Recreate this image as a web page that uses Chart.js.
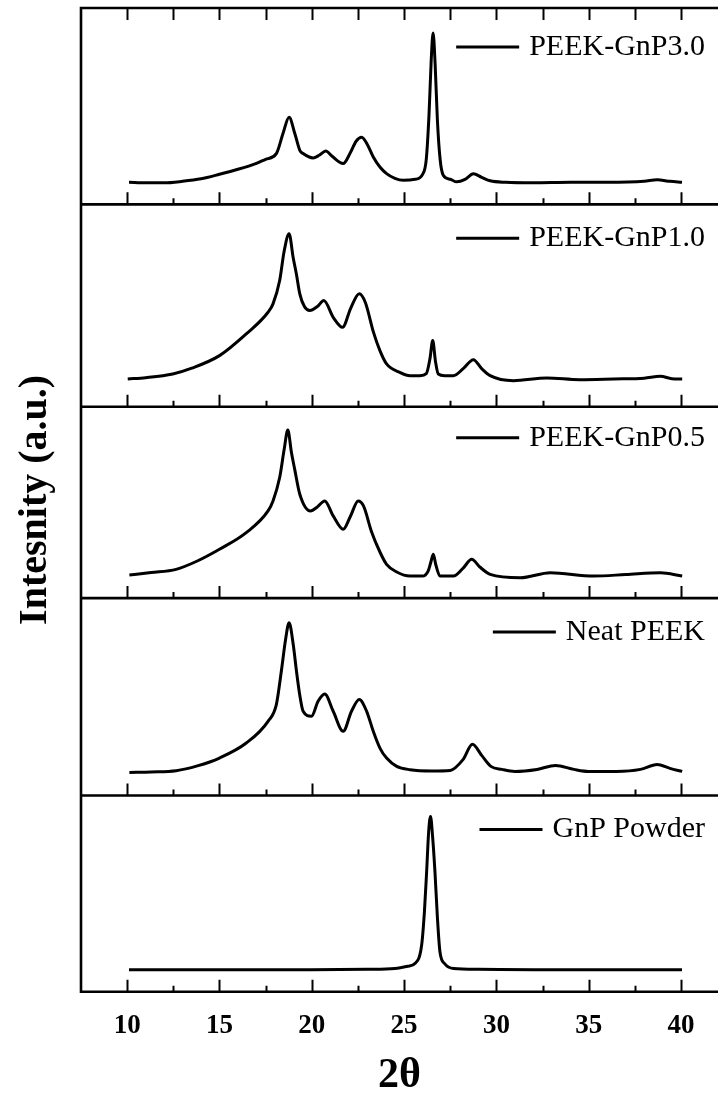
<!DOCTYPE html>
<html>
<head>
<meta charset="utf-8">
<script src="https://cdn.jsdelivr.net/npm/chart.js@4.4.1/dist/chart.umd.min.js"></script>
<style>
  html, body { margin: 0; padding: 0; background: #fff; }
  #wrap { width: 718px; height: 1095px; }
</style>
</head>
<body>
<div id="wrap"><canvas id="xrd" width="718" height="1095"></canvas></div>
<script>
// XRD patterns, one panel per sample (top to bottom)
const sampleNames = ['PEEK-GnP3.0', 'PEEK-GnP1.0', 'PEEK-GnP0.5', 'Neat PEEK', 'GnP Powder'];
const xTicks = [10, 15, 20, 25, 30, 35, 40];
const panelSpan = [196, 202, 191, 197, 196]; // intensity range of each panel (a.u.)

const theta_gnp30 = [10.1, 11, 12, 13, 14, 15, 16, 17, 17.5, 18.08, 18.44, 18.77, 19.08, 19.35, 19.53, 20.07, 20.4, 20.76, 21.1, 21.7, 22.1, 22.4, 22.7, 23.0, 23.33, 23.7, 24.05, 24.5, 24.95, 25.6, 26.0, 26.2, 26.35, 26.47, 26.57, 26.68, 26.8, 26.95, 27.12, 27.5, 27.85, 28.3, 28.75, 29.2, 29.66, 30.5, 32, 34, 36, 38, 38.7, 39.4, 40.05];
const int_gnp30 = [22, 21.5, 21.5, 23, 25.5, 30, 35, 41, 45, 50.7, 70.7, 87, 70.7, 54, 50.7, 46.3, 49, 53.3, 48, 40.7, 52, 63, 67, 60, 47.3, 37, 30.7, 26, 24, 25, 30, 45, 90, 145, 171, 140, 85, 45, 29, 25, 22.5, 25, 30.5, 27, 23.5, 22, 21.5, 22, 22, 23, 24.5, 23, 22];

const theta_gnp10 = [10.03, 11, 12.47, 13.5, 15.0, 16.45, 17.63, 17.9, 18.26, 18.5, 18.77, 18.99, 19.17, 19.35, 19.6, 19.89, 20.3, 20.65, 21.16, 21.67, 22.1, 22.57, 22.9, 23.33, 23.69, 24.05, 24.77, 25.32, 25.86, 26.2, 26.4, 26.55, 26.7, 26.85, 27.2, 27.67, 28.2, 28.75, 29.2, 29.66, 30.92, 32.73, 34.5, 36.35, 38, 38.88, 39.5, 40.06];
const int_gnp10 = [27.7, 29, 32.7, 38.5, 51, 72.7, 94.3, 102.7, 126, 155, 172.7, 149, 132, 112.7, 100, 96, 100, 106, 89.3, 79.3, 98, 112.7, 104, 75, 56, 42.7, 34.3, 31, 31, 33, 48, 66, 45, 32.7, 31, 31, 38, 47, 38, 31, 26, 28.7, 27, 27.7, 28.5, 30.3, 28, 27.7];

const theta_gnp05 = [10.12, 11.3, 12.65, 13.8, 15.0, 16.45, 17.63, 17.9, 18.26, 18.5, 18.7, 18.9, 19.08, 19.35, 19.93, 20.3, 20.7, 21.16, 21.7, 22.1, 22.51, 22.8, 23.24, 23.69, 24.05, 24.6, 25.32, 26.0, 26.3, 26.45, 26.58, 26.72, 26.94, 27.67, 28.2, 28.66, 29.1, 29.66, 31.29, 32.92, 35.27, 37, 38.88, 40.06];
const int_gnp05 = [23, 25.5, 28.7, 37, 48.7, 65.3, 87, 97, 120.3, 148, 167.7, 145, 128, 103.7, 87, 91, 97, 82, 68.7, 82, 97, 92, 66, 46, 33.7, 26, 22, 22, 27, 36, 43.7, 33, 22, 22, 30, 38.7, 31, 23.7, 20.3, 25.3, 22, 23.5, 25.3, 22];

const theta_peek = [10.12, 11.3, 12.65, 13.8, 15.0, 16.45, 17.63, 18.08, 18.35, 18.59, 18.77, 19.0, 19.17, 19.35, 19.53, 19.98, 20.34, 20.7, 21.16, 21.7, 22.15, 22.57, 22.97, 23.33, 23.69, 24.05, 24.6, 25.32, 26.5, 27.5, 28.2, 28.7, 29.2, 29.7, 30.3, 31.0, 32.2, 33.2, 34.2, 35, 36.5, 37.8, 38.7, 39.4, 40.06];
const int_peek = [23, 23.5, 24.7, 29.5, 37.3, 52.3, 74, 90.7, 124, 157, 172.3, 150, 124, 100, 84, 79, 94, 101.3, 84, 64, 84, 95.7, 84, 64, 47.3, 37.3, 29, 25.7, 24.5, 25, 36, 51, 40, 29, 26, 24, 26, 30, 26, 24, 24, 26, 31, 27, 24];

const theta_powder = [10.1, 15, 20, 23, 24.5, 25.2, 25.6, 25.95, 26.1, 26.22, 26.33, 26.43, 26.53, 26.67, 26.8, 26.94, 27.2, 27.67, 29, 32, 36, 40.05];
const int_powder = [22, 22, 22, 22.5, 23.3, 25.5, 28.5, 46.7, 80, 120, 160, 175, 158, 120, 75, 40, 28, 23.3, 22.5, 22, 22, 22];

const thetaSets = [theta_gnp30, theta_gnp10, theta_gnp05, theta_peek, theta_powder];
const intSets = [int_gnp30, int_gnp10, int_gnp05, int_peek, int_powder];

const serif = '"Liberation Serif", "Times New Roman", serif';

// one y axis per panel, stacked on the left
const scales = {
  x: {
    type: 'linear',
    position: 'bottom',
    min: 7.5,
    max: 42,
    afterBuildTicks: s => { s.ticks = xTicks.map(v => ({value: v})); },
    grid: {display: false, drawTicks: false},
    border: {display: false},
    ticks: {color: '#000', font: {size: 27, weight: 'bold'}, padding: 18, maxRotation: 0, autoSkip: false},
    title: {
      display: true, text: '2θ', color: '#000',
      font: {size: 42, weight: 'bold', lineHeight: 0.9},
      padding: {top: -3, bottom: 0}
    }
  }
};
sampleNames.forEach((name, i) => {
  scales['y' + i] = {
    type: 'linear',
    position: 'left',
    stack: 'panels',
    stackWeight: panelSpan[i],
    weight: sampleNames.length - i, // higher weight is placed on top
    min: 0,
    max: panelSpan[i],
    grid: {display: false, drawTicks: false},
    border: {display: false},
    ticks: {display: false}
  };
});

const datasets = sampleNames.map((name, i) => ({
  label: name,
  yAxisID: 'y' + i,
  data: thetaSets[i].map((t, k) => ({x: t, y: intSets[i][k]})),
  borderColor: '#000',
  borderWidth: 3,
  pointRadius: 0,
  cubicInterpolationMode: 'monotone',
  fill: false
}));

// frame, inward ticks and panel separators
const framePlugin = {
  id: 'frame',
  afterDraw(chart) {
    const {ctx, chartArea, scales} = chart;
    const xs = scales.x;
    const minor = xTicks.slice(1).map((v, k) => (v + xTicks[k]) / 2);
    ctx.save();
    ctx.strokeStyle = '#000';
    ctx.lineCap = 'butt';
    ctx.lineWidth = 2;
    sampleNames.forEach((name, i) => {
      const ys = scales['y' + i];
      ctx.beginPath();
      xTicks.forEach(v => {
        const px = Math.round(xs.getPixelForValue(v)) + 0.5;
        ctx.moveTo(px, ys.bottom);
        ctx.lineTo(px, ys.bottom - 12);
      });
      minor.forEach(v => {
        const px = Math.round(xs.getPixelForValue(v)) + 0.5;
        ctx.moveTo(px, ys.bottom);
        ctx.lineTo(px, ys.bottom - 6);
      });
      if (i === 0) {
        xTicks.concat(minor).forEach(v => {
          const px = Math.round(xs.getPixelForValue(v)) + 0.5;
          ctx.moveTo(px, ys.top);
          ctx.lineTo(px, ys.top + 12);
        });
      }
      ctx.stroke();
    });
    ctx.lineWidth = 2.6;
    ctx.beginPath();
    sampleNames.forEach((name, i) => {
      const ys = scales['y' + i];
      ctx.moveTo(chartArea.left, ys.top);
      ctx.lineTo(chartArea.right, ys.top);
      if (i === sampleNames.length - 1) {
        ctx.moveTo(chartArea.left, ys.bottom);
        ctx.lineTo(chartArea.right, ys.bottom);
      }
    });
    ctx.moveTo(chartArea.left, chartArea.top - 1.3);
    ctx.lineTo(chartArea.left, chartArea.bottom + 1.3);
    ctx.stroke();
    ctx.restore();
  }
};

// legend entry inside each panel
const panelLegend = {
  id: 'panelLegend',
  afterDatasetsDraw(chart, args, opts) {
    const {ctx, scales} = chart;
    ctx.save();
    ctx.font = opts.size + 'px ' + serif;
    ctx.fillStyle = '#000';
    ctx.strokeStyle = '#000';
    ctx.lineWidth = 3;
    ctx.textBaseline = 'middle';
    ctx.textAlign = 'left';
    chart.data.datasets.forEach((ds, i) => {
      const ys = scales[ds.yAxisID];
      const y = ys.top + opts.offsets[i];
      const w = ctx.measureText(ds.label).width;
      const tx = opts.right - w;
      ctx.beginPath();
      ctx.moveTo(tx - opts.gap - opts.lineLen, y);
      ctx.lineTo(tx - opts.gap, y);
      ctx.stroke();
      ctx.fillText(ds.label, tx, y);
    });
    ctx.restore();
  }
};

// rotated y title
const yTitle = {
  id: 'yTitle',
  afterDraw(chart, args, opts) {
    const {ctx, chartArea} = chart;
    ctx.save();
    ctx.translate(opts.x, (chartArea.top + chartArea.bottom) / 2);
    ctx.rotate(-Math.PI / 2);
    ctx.font = 'bold ' + opts.size + 'px ' + serif;
    ctx.fillStyle = '#000';
    ctx.textAlign = 'center';
    ctx.textBaseline = 'middle';
    ctx.fillText(opts.text, 0, 0);
    ctx.restore();
  }
};

Chart.defaults.font.family = serif;
Chart.defaults.color = '#000';

new Chart(document.getElementById('xrd').getContext('2d'), {
  type: 'line',
  data: {datasets: datasets},
  options: {
    responsive: false,
    animation: false,
    devicePixelRatio: 1,
    layout: {padding: {left: 81, top: 8, right: 0, bottom: 0}},
    scales: scales,
    plugins: {
      legend: {display: false},
      tooltip: {enabled: false},
      panelLegend: {size: 30, right: 705, gap: 10, lineLen: 63, offsets: [39, 34, 31, 34, 34]},
      yTitle: {text: 'Intesnity (a.u.)', size: 40, x: 36}
    }
  },
  plugins: [framePlugin, panelLegend, yTitle]
});
</script>
</body>
</html>
